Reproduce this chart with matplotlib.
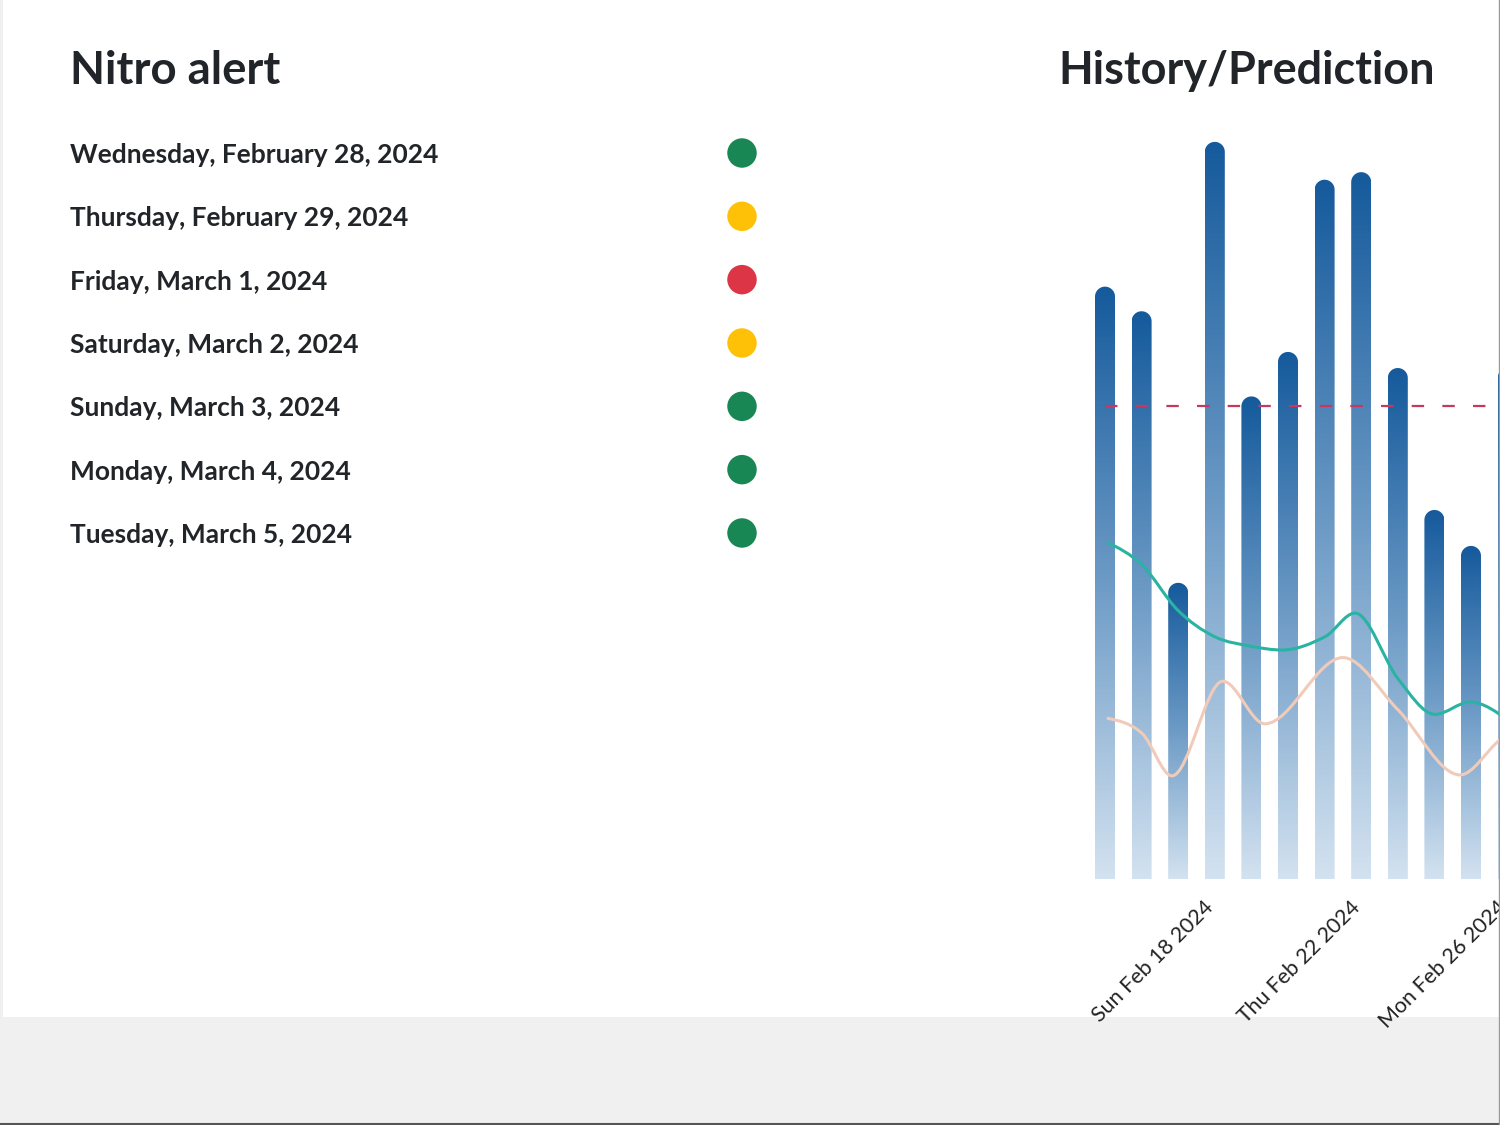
import numpy as np
import matplotlib
matplotlib.use("Agg")
import matplotlib.pyplot as plt
import matplotlib.dates as mdates
import matplotlib.transforms as mtransforms
from matplotlib.colors import LinearSegmentedColormap
from matplotlib.patches import PathPatch, Rectangle
from matplotlib.path import Path
from matplotlib.lines import Line2D

plt.rcParams['font.family'] = ['Lato', 'DejaVu Sans']

# --- data ---
alert_days = ['Wednesday, February 28, 2024', 'Thursday, February 29, 2024',
              'Friday, March 1, 2024', 'Saturday, March 2, 2024',
              'Sunday, March 3, 2024', 'Monday, March 4, 2024',
              'Tuesday, March 5, 2024']
alert_level = ['ok', 'warn', 'danger', 'warn', 'ok', 'ok', 'ok']

bar_dates = ['2024-02-15', '2024-02-16', '2024-02-17', '2024-02-18',
             '2024-02-19', '2024-02-20', '2024-02-21', '2024-02-22',
             '2024-02-23', '2024-02-24', '2024-02-25', '2024-02-26']
bar_values = [62.6, 60.0, 31.3, 77.9, 51.0, 55.7, 73.9, 74.7, 54.0, 39.0, 35.2, 54.0]
threshold = 50.0

# smooth lines: offsets in days from the first bar, values
teal_days = [0.05, 1.01, 1.99, 3.0, 3.99, 4.84, 6.01, 6.83, 8.0, 9.02, 9.97, 11.07]
teal_vals = [35.6, 33.2, 28.4, 25.6, 24.6, 24.2, 25.6, 28.1, 21.2, 17.4, 18.7, 16.6]
beige_days = [0.05, 1.01, 1.83, 3.22, 4.37, 6.50, 8.0, 9.70, 10.79, 11.6]
beige_vals = [17.0, 15.4, 10.9, 20.9, 16.4, 23.4, 17.9, 11.0, 14.7, 16.6]

level_colors = {'ok': '#198754', 'warn': '#ffc107', 'danger': '#dc3545'}
text_color = '#212529'


def smooth_path(xs, ys):
    # cubic hermite through the points, flat at local extremes
    xs = np.asarray(xs, float)
    ys = np.asarray(ys, float)
    s = np.diff(ys) / np.diff(xs)
    m = np.zeros(len(xs))
    for i in range(1, len(xs) - 1):
        if s[i - 1] * s[i] <= 0:
            m[i] = 0
        else:
            m[i] = (ys[i + 1] - ys[i - 1]) / (xs[i + 1] - xs[i - 1])
    m[0] = (3 * s[0] - m[1]) / 2
    m[-1] = (3 * s[-1] - m[-2]) / 2
    verts = [(xs[0], ys[0])]
    codes = [Path.MOVETO]
    for i in range(len(xs) - 1):
        d = (xs[i + 1] - xs[i]) / 3
        verts += [(xs[i] + d, ys[i] + m[i] * d),
                  (xs[i + 1] - d, ys[i + 1] - m[i + 1] * d),
                  (xs[i + 1], ys[i + 1])]
        codes += [Path.CURVE4] * 3
    return Path(verts, codes)


W, H = 1500, 1125
fig = plt.figure(figsize=(15, 11.25), dpi=100)
fig.patch.set_facecolor('#f0f0f0')
fig.add_artist(Rectangle((3 / W, 108 / H), 1496 / W, 1017 / H, transform=fig.transFigure,
                         facecolor='white', edgecolor='none', zorder=-5))
fig.add_artist(Line2D([0, 1], [1 / H, 1 / H], transform=fig.transFigure, color='#555555', lw=1.5))
fig.add_artist(Line2D([1499 / W, 1499 / W], [0, 1], transform=fig.transFigure, color='#9a9a9a', lw=1))

# --- left panel ---
fig.text(70 / W, 1 - 84 / H, 'Nitro alert', fontsize=32.8, fontweight='bold',
         color=text_color, va='baseline')
row_h = 63.33
axl = fig.add_axes([0, 1 - (153 + 6.5 * row_h) / H, 1000 / W, 7 * row_h / H])
axl.set_xlim(0, 1000)
axl.set_ylim(6.5, -0.5)
axl.axis('off')
rows = np.arange(len(alert_days))
for i, label in enumerate(alert_days):
    axl.text(70, i, label, fontsize=19, fontweight='bold', color=text_color,
             va='center_baseline')
axl.scatter([742] * len(rows), rows, s=450,
            c=[level_colors[lv] for lv in alert_level], edgecolors='none')

# --- right panel ---
fig.text(1058 / W, 1 - 84 / H, 'History/Prediction', fontsize=32.4, fontweight='bold',
         color=text_color, va='baseline')

px_day = 36.6
ymax = 80
ax = fig.add_axes([(1105 - 0.7 * px_day) / W, (H - 879) / H, 20 * px_day / W, 757 / H])
ax.set_facecolor('none')
x = mdates.datestr2num(bar_dates)
for sp in ax.spines.values():
    sp.set_visible(False)
ax.set_yticks([])

cmap = LinearSegmentedColormap.from_list('bar', ['#d3e2f0', '#6d9bc6', '#155a9c'])
grad = np.linspace(0, 1, 256).reshape(-1, 1)
bw = 20 / px_day
bars = ax.bar(x, bar_values, width=bw, color='none', edgecolor='none')
ry = 10 / (757 / ymax)
t = np.linspace(np.pi, 0, 30)
for b in bars:
    x0, w, hgt = b.get_x(), b.get_width(), b.get_height()
    cx = x0 + w / 2
    verts = [(x0, 0), (x0, hgt - ry)]
    verts += list(zip(cx + w / 2 * np.cos(t), hgt - ry + ry * np.sin(t)))
    verts += [(x0 + w, 0), (x0, 0)]
    clip = PathPatch(Path(verts, closed=True), transform=ax.transData,
                     facecolor='none', edgecolor='none')
    ax.add_patch(clip)
    im = ax.imshow(grad, cmap=cmap, origin='lower', aspect='auto',
                   extent=[x0, x0 + w, 0, hgt], zorder=2)
    im.set_clip_path(clip)
ax.set_xlim(x[0] - 0.7, x[0] + 19.3)
ax.set_ylim(0, ymax)

ax.plot([x[0], x[0] + 19.3], [threshold, threshold], color='#c8385e', lw=1.6,
        dashes=(5.6, 8.2), zorder=3)

ax.add_patch(PathPatch(smooth_path(x[0] + np.array(teal_days), teal_vals),
                       facecolor='none', edgecolor='#2ab3a3', lw=2.2, zorder=4))
ax.add_patch(PathPatch(smooth_path(x[0] + np.array(beige_days), beige_vals),
                       facecolor='none', edgecolor='#f1cbb9', lw=2.2, zorder=4))

ticks = x[3::4]
ax.set_xticks(ticks)
ax.set_xticklabels([mdates.num2date(d).strftime('%a %b %d %Y') for d in ticks],
                   rotation=45, ha='right', rotation_mode='anchor', va='center',
                   fontsize=15.5, color='#222222')
ax.tick_params(axis='x', length=0, pad=18)
shift = mtransforms.ScaledTranslation(-4 / 100, 0, fig.dpi_scale_trans)
for lab in ax.get_xticklabels():
    lab.set_transform(lab.get_transform() + shift)

fig.savefig('out.png', dpi=100)
